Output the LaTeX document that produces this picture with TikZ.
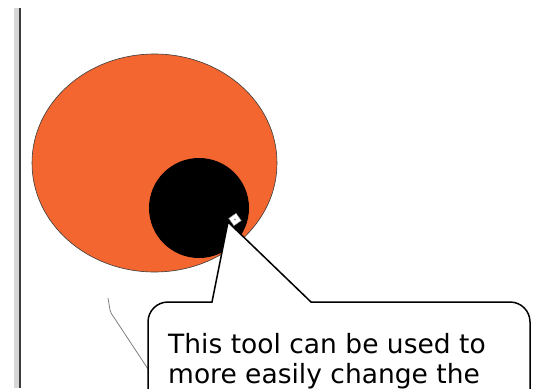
\documentclass[tikz,border=0pt]{standalone}
\usepackage{fontspec}
\setmainfont{DejaVu Sans}
\usetikzlibrary{shapes.geometric}
\definecolor{eyeorange}{RGB}{243,102,48}
\definecolor{barlight}{RGB}{215,215,215}
\definecolor{bardark}{RGB}{60,60,60}
\tikzset{
  callout/.style={draw=black, fill=white, line width=1.5pt, line join=miter},
  calltext/.style={anchor=base west, inner sep=0pt, font=\fontsize{26.5}{30}\selectfont, text=black},
}
\begin{document}
\begin{tikzpicture}[x=1pt,y=-1pt]
\useasboundingbox (0,0) rectangle (537,388);
\clip (0,0) rectangle (537,388);
\fill[white] (0,0) rectangle (537,388);
% left bar
\fill[barlight] (14,8) rectangle (19,388);
\fill[bardark] (19,8) rectangle (21,388);
% orange ellipse
\node[ellipse, draw=bardark, line width=0.6pt, fill=eyeorange, minimum width=245pt, minimum height=218pt, inner sep=0pt] (eye) at (154.5,163) {};
% black pupil
\node[circle, fill=black, minimum size=100pt, inner sep=0pt] (pupil) at (199,208) {};
% gray curve
\draw[gray, line width=0.8pt] (108,298) -- (110,310) .. controls (111,314) and (113,316) .. (115,319) -- (150,372);
% callout
\coordinate (tip) at (228,222);
\path[callout] (148,420) -- (148,322) to[out=90,in=180] (168,302) -- (212,302) -- (tip) -- (311,302) -- (510,302) to[out=0,in=90] (530,322) -- (530,420);
% diamond marker
\node[draw=gray, line width=0.4pt, fill=white, rotate=35, minimum size=9pt, inner sep=0pt] (mark) at (235,219.5) {};
\fill[gray] (mark.center) circle (0.8pt);
% text
\node[calltext] (t1) at (168,353) {This tool can be used to};
\node[calltext] (t2) at (168,383) {more easily change the};
\end{tikzpicture}
\end{document}
